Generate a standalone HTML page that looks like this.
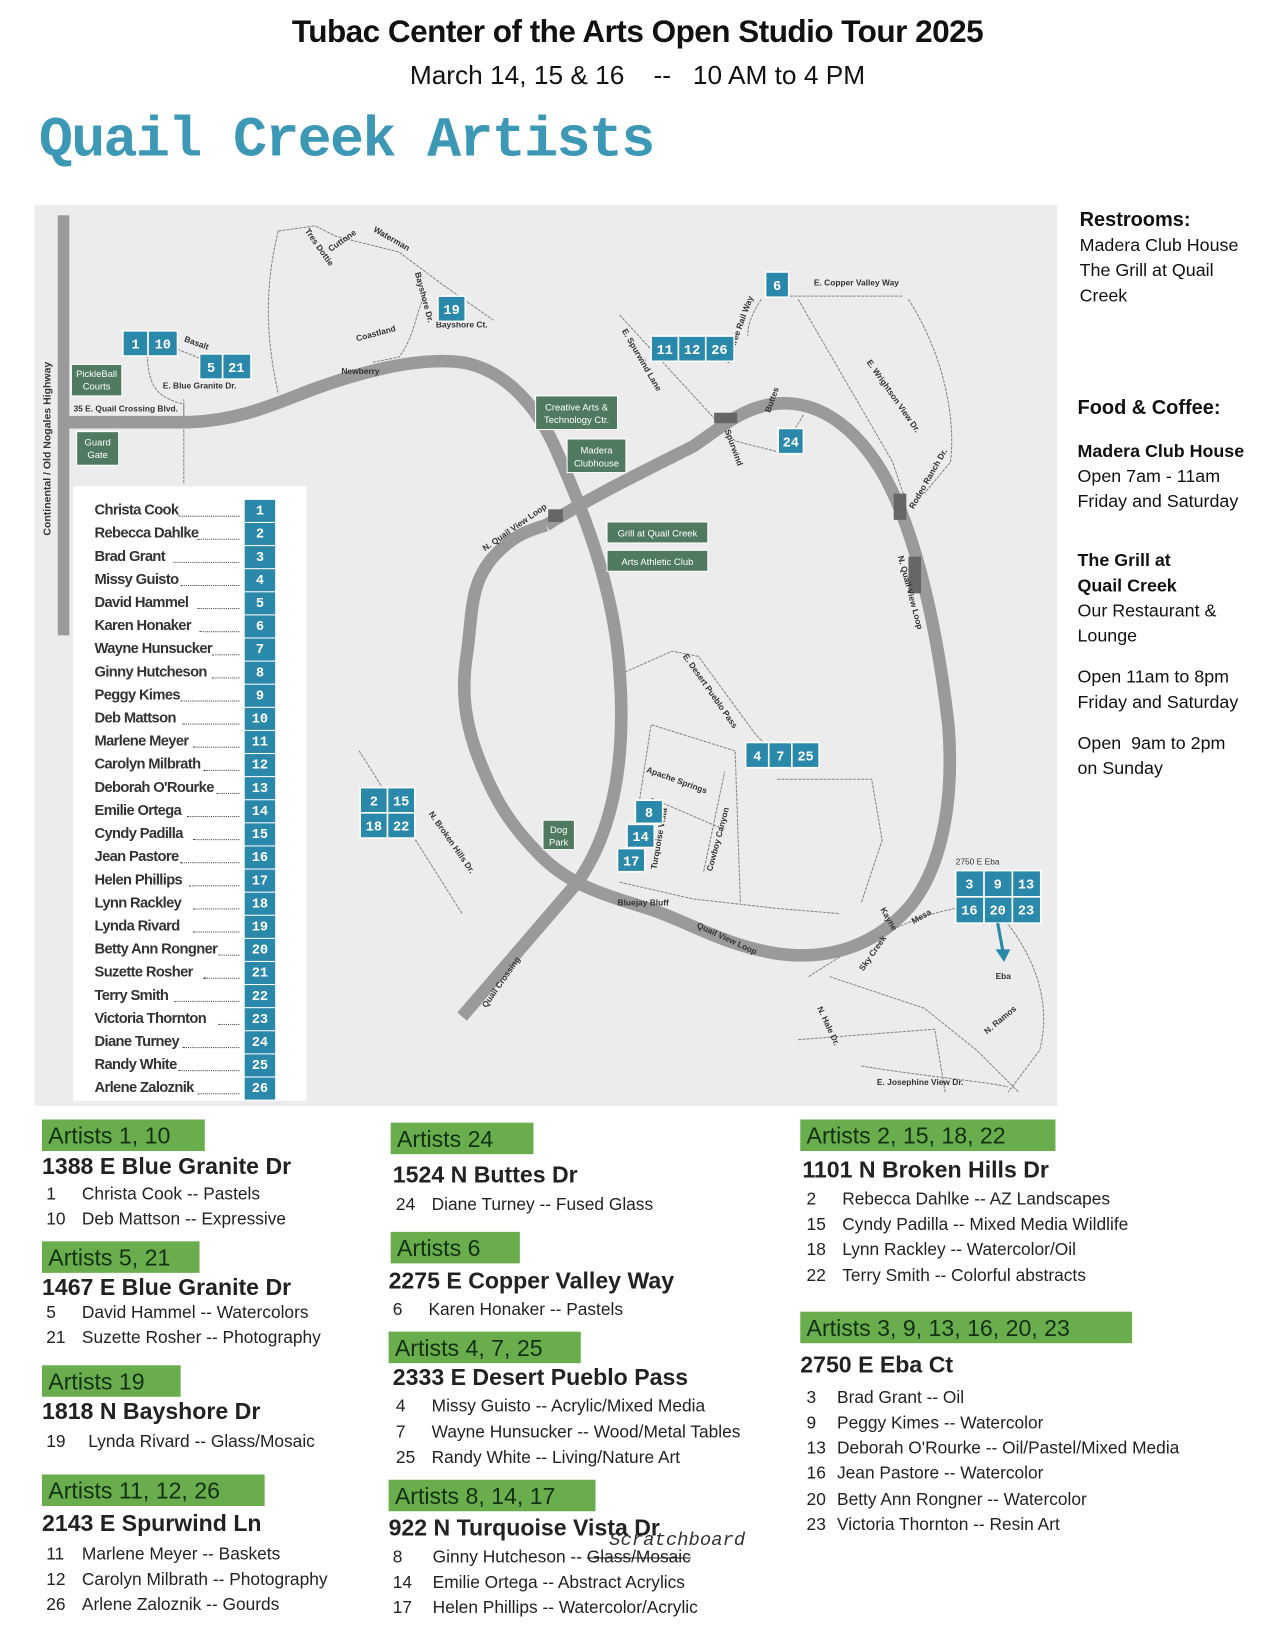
<!DOCTYPE html>
<html><head><meta charset="utf-8">
<style>
html,body{margin:0;padding:0;background:#fff;}
body{width:1275px;height:1650px;overflow:hidden;position:relative;font-family:"Liberation Sans",sans-serif;}
#w{position:absolute;left:0;top:0;width:1214px;height:1571px;transform:scale(1.0502);transform-origin:0 0;}
.a{position:absolute;white-space:nowrap;}
.t1{left:0;width:1214px;text-align:center;top:14px;font-size:30px;font-weight:bold;color:#111;letter-spacing:-0.5px;}
.t2{left:0;width:1214px;text-align:center;top:58px;font-size:25px;color:#111;}
.qc{left:37px;top:104px;font-family:"Liberation Mono",monospace;font-weight:bold;font-size:54px;color:#3c98b4;letter-spacing:-1.6px;}
.side{font-size:17px;color:#111;line-height:24px;}
.sb{font-weight:bold;font-size:19px;}
.g{position:absolute;background:#6aad4d;color:#123012;font-size:22px;padding:0 6px;height:30px;line-height:31px;white-space:nowrap;box-sizing:border-box;}
.ad{position:absolute;font-weight:bold;font-size:22px;color:#222;white-space:nowrap;}
.ln{position:absolute;font-size:16.5px;color:#222;white-space:nowrap;}
.ln b{display:inline-block;width:34px;font-weight:normal;}
.leg{position:absolute;left:70px;top:463px;width:222px;height:585px;background:#fff;}
.nm{position:absolute;left:20px;font-size:14px;font-weight:bold;color:#333;width:140px;letter-spacing:-0.6px;}
.nb{position:absolute;left:163px;width:29px;height:21px;background:#2a88aa;color:#fff;font-size:13px;font-weight:bold;text-align:center;line-height:21px;font-family:"Liberation Mono",monospace;}
.dt{position:absolute;left:0;width:138px;height:0;border-bottom:1px dotted #444;}
</style></head><body><div id="w">
<div class="a t1">Tubac Center of the Arts Open Studio Tour 2025</div>
<div class="a t2">March 14, 15 &amp; 16 &nbsp;&nbsp; -- &nbsp;&nbsp;10 AM to 4 PM</div>
<div class="a qc">Quail Creek Artists</div>

<svg class="a" style="left:33px;top:195px" width="974" height="858" viewBox="33 195 974 858">
<rect x="33" y="195" width="974" height="858" fill="#ececec"/>
<rect x="55" y="205" width="11" height="400" fill="#9a9a9a"/>
<g fill="none" stroke="#888" stroke-width="1" stroke-dasharray="3,1">
<path d="M265,220 L300,215 L320,225 L360,235 L380,240 L420,270 L470,305"/>
<path d="M265,220 C250,280 255,330 265,375"/>
<path d="M405,280 C395,300 395,320 380,340 L355,345"/>
<path d="M150,325 L200,345"/>
<path d="M140,330 C140,370 150,378 175,385"/>
<path d="M175,385 L175,460"/>
<path d="M175,402 L175,380"/>
<path d="M740,282 L860,282"/>
<path d="M725,285 C715,300 712,310 712,320"/>
<path d="M760,285 L850,440 L860,470"/>
<path d="M865,285 C900,340 910,400 905,440 L880,470"/>
<path d="M590,300 L700,420 L740,430"/>
<path d="M765,395 L750,420"/>
<path d="M595,640 L640,620 L665,625 L720,700 L740,720"/>
<path d="M600,820 L620,690 L700,715 L705,860"/>
<path d="M590,840 L660,856 L740,865 L800,870"/>
<path d="M740,742 L830,742 L840,800 L820,860"/>
<path d="M620,760 L690,790"/>
<path d="M670,830 L690,735"/>
<path d="M342,715 L440,870"/>
<path d="M770,930 C830,890 880,870 910,865 L960,880 C990,920 1000,960 990,1000 L960,1040"/>
<path d="M790,930 L880,960 L930,1000 L970,1040"/>
<path d="M760,990 L890,980 L900,1040"/>
<path d="M820,1015 C880,1025 940,1030 960,1035"/>
</g>
<g fill="none" stroke="#9a9a9a" stroke-width="12" stroke-linejoin="round">
<path d="M62,402 L180,402 C230,400 260,385 300,370 C350,352 400,340 440,345 C480,352 510,385 528,425 C555,485 585,560 590,640 C596,720 585,790 550,840 L440,968"/>
<path d="M520,500 C560,475 610,450 660,425 C690,405 710,385 745,384 C790,383 830,420 855,480 C880,540 895,620 903,690 C910,780 890,840 860,870 C830,900 790,915 740,908 C690,900 660,880 620,866 C580,853 545,845 515,815 C485,785 470,760 455,720 C440,680 440,650 445,620 C450,580 448,555 470,530 C490,508 505,505 520,500"/>
</g>
<g fill="#666"><rect x="680" y="393" width="22" height="10"/><rect x="522" y="485" width="14" height="12"/><rect x="851" y="470" width="12" height="25"/><rect x="865" y="530" width="12" height="35"/></g>
<g font-family="Liberation Sans" font-size="8" fill="#333" font-weight="bold">
<text x="70" y="392">35 E. Quail Crossing Blvd.</text>
<text x="325" y="356">Newberry</text>
<text x="340" y="325" transform="rotate(-15 340 325)">Coastland</text>
<text x="415" y="312">Bayshore Ct.</text>
<text x="395" y="260" transform="rotate(75 395 260)">Bayshore Dr.</text>
<text x="175" y="325" transform="rotate(20 175 325)">Basalt</text>
<text x="155" y="370">E. Blue Granite Dr.</text>
<text x="290" y="220" transform="rotate(55 290 220)">Tres Dottie</text>
<text x="315" y="240" transform="rotate(-35 315 240)">Cuttone</text>
<text x="355" y="220" transform="rotate(30 355 220)">Waterman</text>
<text x="775" y="272">E. Copper Valley Way</text>
<text x="592" y="315" transform="rotate(60 592 315)">E. Spurwind Lane</text>
<text x="760" y="300" transform="rotate(-70 760 370)">N. Three Rail Way</text>
<text x="825" y="345" transform="rotate(55 825 345)">E. Wrightson View Dr.</text>
<text x="870" y="485" transform="rotate(-60 870 485)">Rodeo Ranch Dr.</text>
<text x="690" y="410" transform="rotate(70 690 410)">Spurwind</text>
<text x="738" y="390" transform="rotate(-70 738 395)">Buttes</text>
<text x="462" y="525" transform="rotate(-35 462 525)">N. Quail View Loop</text>
<text x="855" y="530" transform="rotate(75 855 530)">N. Quail View Loop</text>
<text x="650" y="625" transform="rotate(55 650 625)">E. Desert Pueblo Pass</text>
<text x="615" y="735" transform="rotate(20 615 735)">Apache Springs</text>
<text x="625" y="828" transform="rotate(-80 625 828)">Turquoise Vista</text>
<text x="678" y="830" transform="rotate(-75 678 830)">Cowboy Canyon</text>
<text x="588" y="862">Bluejay Bluff</text>
<text x="663" y="883" transform="rotate(25 663 883)">Quail View Loop</text>
<text x="408" y="775" transform="rotate(55 408 775)">N. Broken Hills Dr.</text>
<text x="463" y="960" transform="rotate(-55 463 960)">Quail Crossing</text>
<text x="910" y="823" font-weight="normal">2750 E Eba</text>
<text x="948" y="932">Eba</text>
<text x="838" y="866" transform="rotate(60 838 866)">Kayne</text>
<text x="870" y="880" transform="rotate(-30 870 880)">Mesa</text>
<text x="822" y="925" transform="rotate(-55 822 925)">Sky Creek</text>
<text x="778" y="960" transform="rotate(65 778 960)">N. Hale Dr.</text>
<text x="940" y="985" transform="rotate(-40 940 985)">N. Ramos</text>
<text x="835" y="1033">E. Josephine View Dr.</text>
<text x="48" y="510" transform="rotate(-90 48 510)" font-size="10">Continental / Old Nogales Highway</text>
</g>
<g fill="#4f7a60" stroke="#fff" stroke-width="1">
<rect x="68" y="347" width="48" height="30"/><rect x="73" y="411" width="40" height="32"/>
<rect x="510" y="377" width="78" height="32"/><rect x="540" y="418" width="56" height="32"/>
<rect x="578" y="497" width="96" height="20"/><rect x="578" y="524" width="96" height="20"/>
<rect x="517" y="781" width="30" height="28"/>
</g>
<g font-family="Liberation Sans" font-size="9" fill="#fff" text-anchor="middle">
<text x="92" y="359">PickleBall</text><text x="92" y="371">Courts</text>
<text x="93" y="424">Guard</text><text x="93" y="436">Gate</text>
<text x="549" y="391">Creative Arts &amp;</text><text x="549" y="403">Technology Ctr.</text>
<text x="568" y="432">Madera</text><text x="568" y="444">Clubhouse</text>
<text x="626" y="511">Grill at Quail Creek</text><text x="626" y="538">Arts Athletic Club</text>
<text x="532" y="793">Dog</text><text x="532" y="805">Park</text>
</g>
<g fill="#2a88aa" stroke="#fff" stroke-width="1.5">
<rect x="117" y="315" width="24" height="24"/><rect x="141" y="315" width="28" height="24"/>
<rect x="190" y="337" width="22" height="24"/><rect x="212" y="337" width="27" height="24"/>
<rect x="417" y="282" width="26" height="24"/>
<rect x="729" y="259" width="22" height="24"/>
<rect x="620" y="320" width="26" height="24"/><rect x="646" y="320" width="26" height="24"/><rect x="672" y="320" width="27" height="24"/>
<rect x="741" y="408" width="24" height="24"/>
<rect x="710" y="707" width="22" height="24"/><rect x="732" y="707" width="22" height="24"/><rect x="754" y="707" width="26" height="24"/>
<rect x="343" y="750" width="26" height="24"/><rect x="369" y="750" width="26" height="24"/><rect x="343" y="774" width="26" height="24"/><rect x="369" y="774" width="26" height="24"/>
<rect x="605" y="762" width="26" height="22"/><rect x="597" y="785" width="26" height="22"/><rect x="588" y="808" width="26" height="22"/>
<rect x="910" y="829" width="27" height="25"/><rect x="937" y="829" width="27" height="25"/><rect x="964" y="829" width="27" height="25"/>
<rect x="910" y="854" width="27" height="25"/><rect x="937" y="854" width="27" height="25"/><rect x="964" y="854" width="27" height="25"/>
</g>
<path d="M950,879 L955,906" stroke="#2a88aa" stroke-width="3"/><path d="M948,904 L962,904 L956,916 Z" fill="#2a88aa"/>
<g font-family="Liberation Mono" font-size="13" font-weight="bold" fill="#fff" text-anchor="middle">
<text x="129" y="332">1</text><text x="155" y="332">10</text><text x="201" y="354">5</text><text x="225" y="354">21</text>
<text x="430" y="299">19</text><text x="740" y="276">6</text>
<text x="633" y="337">11</text><text x="659" y="337">12</text><text x="685" y="337">26</text>
<text x="753" y="425">24</text>
<text x="721" y="724">4</text><text x="743" y="724">7</text><text x="767" y="724">25</text>
<text x="356" y="767">2</text><text x="382" y="767">15</text><text x="356" y="791">18</text><text x="382" y="791">22</text>
<text x="618" y="778">8</text><text x="610" y="801">14</text><text x="601" y="824">17</text>
<text x="923" y="846">3</text><text x="950" y="846">9</text><text x="977" y="846">13</text>
<text x="923" y="871">16</text><text x="950" y="871">20</text><text x="977" y="871">23</text>
</g>
</svg>

<div class="leg">
<div class="nm" style="top:14px">Christa Cook<div class="dt" style="top:14px;left:80px;width:58px"></div></div>
<div class="nm" style="top:36px">Rebecca Dahlke<div class="dt" style="top:14px;left:98px;width:40px"></div></div>
<div class="nm" style="top:58px">Brad Grant<div class="dt" style="top:14px;left:75px;width:63px"></div></div>
<div class="nm" style="top:80px">Missy Guisto<div class="dt" style="top:14px;left:82px;width:56px"></div></div>
<div class="nm" style="top:102px">David Hammel<div class="dt" style="top:14px;left:98px;width:40px"></div></div>
<div class="nm" style="top:124px">Karen Honaker<div class="dt" style="top:14px;left:100px;width:38px"></div></div>
<div class="nm" style="top:146px">Wayne Hunsucker<div class="dt" style="top:14px;left:112px;width:26px"></div></div>
<div class="nm" style="top:168px">Ginny Hutcheson<div class="dt" style="top:14px;left:112px;width:26px"></div></div>
<div class="nm" style="top:190px">Peggy Kimes<div class="dt" style="top:14px;left:82px;width:56px"></div></div>
<div class="nm" style="top:212px">Deb Mattson<div class="dt" style="top:14px;left:84px;width:54px"></div></div>
<div class="nm" style="top:234px">Marlene Meyer<div class="dt" style="top:14px;left:94px;width:44px"></div></div>
<div class="nm" style="top:256px">Carolyn Milbrath<div class="dt" style="top:14px;left:104px;width:34px"></div></div>
<div class="nm" style="top:278px">Deborah O'Rourke<div class="dt" style="top:14px;left:116px;width:22px"></div></div>
<div class="nm" style="top:300px">Emilie Ortega<div class="dt" style="top:14px;left:88px;width:50px"></div></div>
<div class="nm" style="top:322px">Cyndy Padilla<div class="dt" style="top:14px;left:94px;width:44px"></div></div>
<div class="nm" style="top:344px">Jean Pastore<div class="dt" style="top:14px;left:82px;width:56px"></div></div>
<div class="nm" style="top:366px">Helen Phillips<div class="dt" style="top:14px;left:90px;width:48px"></div></div>
<div class="nm" style="top:388px">Lynn Rackley<div class="dt" style="top:14px;left:94px;width:44px"></div></div>
<div class="nm" style="top:410px">Lynda Rivard<div class="dt" style="top:14px;left:94px;width:44px"></div></div>
<div class="nm" style="top:432px">Betty Ann Rongner<div class="dt" style="top:14px;left:118px;width:20px"></div></div>
<div class="nm" style="top:454px">Suzette Rosher<div class="dt" style="top:14px;left:104px;width:34px"></div></div>
<div class="nm" style="top:476px">Terry Smith<div class="dt" style="top:14px;left:76px;width:62px"></div></div>
<div class="nm" style="top:498px">Victoria Thornton<div class="dt" style="top:14px;left:118px;width:20px"></div></div>
<div class="nm" style="top:520px">Diane Turney<div class="dt" style="top:14px;left:84px;width:54px"></div></div>
<div class="nm" style="top:542px">Randy White<div class="dt" style="top:14px;left:80px;width:58px"></div></div>
<div class="nm" style="top:564px">Arlene Zaloznik<div class="dt" style="top:14px;left:98px;width:40px"></div></div>
<div class="nb" style="top:13px">1</div><div class="nb" style="top:35px">2</div><div class="nb" style="top:57px">3</div><div class="nb" style="top:79px">4</div><div class="nb" style="top:101px">5</div><div class="nb" style="top:123px">6</div><div class="nb" style="top:145px">7</div><div class="nb" style="top:167px">8</div><div class="nb" style="top:189px">9</div><div class="nb" style="top:211px">10</div><div class="nb" style="top:233px">11</div><div class="nb" style="top:255px">12</div><div class="nb" style="top:277px">13</div><div class="nb" style="top:299px">14</div><div class="nb" style="top:321px">15</div><div class="nb" style="top:343px">16</div><div class="nb" style="top:365px">17</div><div class="nb" style="top:387px">18</div><div class="nb" style="top:409px">19</div><div class="nb" style="top:431px">20</div><div class="nb" style="top:453px">21</div><div class="nb" style="top:475px">22</div><div class="nb" style="top:497px">23</div><div class="nb" style="top:519px">24</div><div class="nb" style="top:541px">25</div><div class="nb" style="top:563px">26</div>
</div>

<div class="a side" style="left:1028px;top:198px"><div class="sb">Restrooms:</div>Madera Club House<br>The Grill at Quail<br>Creek</div>
<div class="a side" style="left:1026px;top:377px"><div class="sb">Food &amp; Coffee:</div></div>
<div class="a side" style="left:1026px;top:418px"><b>Madera Club House</b><br>Open 7am - 11am<br>Friday and Saturday</div>
<div class="a side" style="left:1026px;top:522px"><b>The Grill at<br>Quail Creek</b><br>Our Restaurant &amp;<br>Lounge</div>
<div class="a side" style="left:1026px;top:633px">Open 11am to 8pm<br>Friday and Saturday</div>
<div class="a side" style="left:1026px;top:696px">Open &nbsp;9am to 2pm<br>on Sunday</div>

<div class="g" style="left:40px;top:1066px;width:155px">Artists 1, 10</div>
<div class="ad" style="left:40px;top:1098px">1388 E Blue Granite Dr</div>
<div class="ln" style="left:44px;top:1128px"><b>1</b>Christa Cook -- Pastels</div>
<div class="ln" style="left:44px;top:1152px"><b>10</b>Deb Mattson -- Expressive</div>
<div class="g" style="left:40px;top:1182px;width:150px">Artists 5, 21</div>
<div class="ad" style="left:40px;top:1213px">1467 E Blue Granite Dr</div>
<div class="ln" style="left:44px;top:1241px"><b>5</b>David Hammel -- Watercolors</div>
<div class="ln" style="left:44px;top:1265px"><b>21</b>Suzette Rosher -- Photography</div>
<div class="g" style="left:40px;top:1300px;width:132px">Artists 19</div>
<div class="ad" style="left:40px;top:1331px">1818 N Bayshore Dr</div>
<div class="ln" style="left:44px;top:1364px"><b style="width:40px">19</b>Lynda Rivard -- Glass/Mosaic</div>
<div class="g" style="left:40px;top:1404px;width:212px">Artists 11, 12, 26</div>
<div class="ad" style="left:40px;top:1438px">2143 E Spurwind Ln</div>
<div class="ln" style="left:44px;top:1471px"><b>11</b>Marlene Meyer -- Baskets</div>
<div class="ln" style="left:44px;top:1495px"><b>12</b>Carolyn Milbrath -- Photography</div>
<div class="ln" style="left:44px;top:1519px"><b>26</b>Arlene Zaloznik -- Gourds</div>

<div class="g" style="left:372px;top:1069px;width:136px">Artists 24</div>
<div class="ad" style="left:374px;top:1106px">1524 N Buttes Dr</div>
<div class="ln" style="left:377px;top:1138px"><b>24</b>Diane Turney -- Fused Glass</div>
<div class="g" style="left:372px;top:1173px;width:123px">Artists 6</div>
<div class="ad" style="left:370px;top:1207px">2275 E Copper Valley Way</div>
<div class="ln" style="left:374px;top:1238px"><b>6</b>Karen Honaker -- Pastels</div>
<div class="g" style="left:370px;top:1268px;width:183px">Artists 4, 7, 25</div>
<div class="ad" style="left:374px;top:1299px">2333 E Desert Pueblo Pass</div>
<div class="ln" style="left:377px;top:1330px"><b>4</b>Missy Guisto -- Acrylic/Mixed Media</div>
<div class="ln" style="left:377px;top:1355px"><b>7</b>Wayne Hunsucker -- Wood/Metal Tables</div>
<div class="ln" style="left:377px;top:1379px"><b>25</b>Randy White -- Living/Nature Art</div>
<div class="g" style="left:370px;top:1409px;width:197px">Artists 8, 14, 17</div>
<div class="ad" style="left:370px;top:1442px">922 N Turquoise Vista Dr</div>
<div class="a" style="left:580px;top:1457px;font-family:'Liberation Mono',monospace;font-style:italic;font-size:18px;color:#333">Scratchboard</div>
<div class="ln" style="left:374px;top:1474px"><b style="width:38px">8</b>Ginny Hutcheson -- <s>Glass/Mosaic</s></div>
<div class="ln" style="left:374px;top:1498px"><b style="width:38px">14</b>Emilie Ortega -- Abstract Acrylics</div>
<div class="ln" style="left:374px;top:1522px"><b style="width:38px">17</b>Helen Phillips -- Watercolor/Acrylic</div>

<div class="g" style="left:762px;top:1066px;width:243px">Artists 2, 15, 18, 22</div>
<div class="ad" style="left:764px;top:1101px">1101 N Broken Hills Dr</div>
<div class="ln" style="left:768px;top:1133px"><b>2</b>Rebecca Dahlke -- AZ Landscapes</div>
<div class="ln" style="left:768px;top:1157px"><b>15</b>Cyndy Padilla -- Mixed Media Wildlife</div>
<div class="ln" style="left:768px;top:1181px"><b>18</b>Lynn Rackley -- Watercolor/Oil</div>
<div class="ln" style="left:768px;top:1206px"><b>22</b>Terry Smith -- Colorful abstracts</div>
<div class="g" style="left:762px;top:1249px;width:316px">Artists 3, 9, 13, 16, 20, 23</div>
<div class="ad" style="left:762px;top:1287px">2750 E Eba Ct</div>
<div class="ln" style="left:768px;top:1322px"><b style="width:29px">3</b>Brad Grant -- Oil</div>
<div class="ln" style="left:768px;top:1346px"><b style="width:29px">9</b>Peggy Kimes -- Watercolor</div>
<div class="ln" style="left:768px;top:1370px"><b style="width:29px">13</b>Deborah O'Rourke -- Oil/Pastel/Mixed Media</div>
<div class="ln" style="left:768px;top:1394px"><b style="width:29px">16</b>Jean Pastore -- Watercolor</div>
<div class="ln" style="left:768px;top:1419px"><b style="width:29px">20</b>Betty Ann Rongner -- Watercolor</div>
<div class="ln" style="left:768px;top:1443px"><b style="width:29px">23</b>Victoria Thornton -- Resin Art</div>
</div></body></html>
